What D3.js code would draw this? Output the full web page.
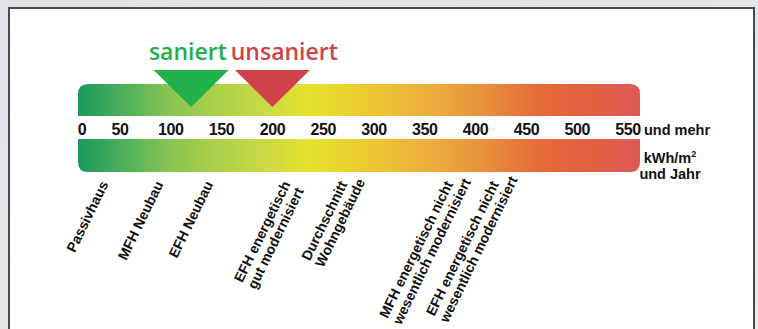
<!DOCTYPE html>
<html>
<head>
<meta charset="utf-8">
<script src="https://cdn.jsdelivr.net/npm/d3@7"></script>
<style>
  html, body { margin: 0; padding: 0; background: #e3e6e9; }
  svg { display: block; }
</style>
</head>
<body>
<div id="chart"></div>
<script>
// tick values on the scale (kWh/m² and year)
var tickValues = [0, 50, 100, 150, 200, 250, 300, 350, 400, 450, 500, 550];

// the two markers above the bar
var markerNames = ["saniert", "unsaniert"];
var markerValues = [120, 200];
var markerColors = ["#22b04b", "#cf4249"];

// building types below the bar (value = where the label ends)
var buildingNames = [
    ["Passivhaus"],
    ["MFH Neubau"],
    ["EFH Neubau"],
    ["EFH energetisch", "gut modernisiert"],
    ["Durchschnitt", "Wohngebäude"],
    ["MFH energetisch nicht", "wesentlich modernisiert"],
    ["EFH energetisch nicht", "wesentlich modernisiert"]
];
var buildingValues = [35, 93, 142, 218, 274, 378, 423];

var width = 758,
    height = 329;

var svg = d3.select("#chart")
    .append("svg")
    .attr("width", width)
    .attr("height", height);

// background frame
var bg = svg.append("defs").append("linearGradient")
    .attr("id", "bgGrad")
    .attr("x1", "0").attr("y1", "0").attr("x2", "1").attr("y2", "1");
bg.append("stop").attr("offset", "0%").attr("stop-color", "#dfe3e7");
bg.append("stop").attr("offset", "100%").attr("stop-color", "#e8eaec");
svg.append("rect")
    .attr("width", width).attr("height", height)
    .attr("fill", "url(#bgGrad)");

svg.append("rect")
    .attr("x", 9).attr("y", 8)
    .attr("width", 745).attr("height", height + 20)
    .attr("fill", "#ffffff")
    .attr("stroke", "#4a4a4a")
    .attr("stroke-width", 2);

// scale: "0" sits at the very start of the bar, the rest is evenly spaced
var x = d3.scaleLinear()
    .domain([0, 50, 550])
    .range([82, 120, 628]);

var barLeft = x(0) - 4,
    barRight = x(550) + 12,
    r = 10;

// colour gradient of the bar
var grad = svg.select("defs").append("linearGradient")
    .attr("id", "barGrad")
    .attr("gradientUnits", "userSpaceOnUse")
    .attr("x1", barLeft).attr("x2", barRight)
    .attr("y1", 0).attr("y2", 0);
var stops = [
    [0, "#1c995c"], [0.08, "#4caf5a"], [0.16, "#86c452"], [0.24, "#a9cf4b"],
    [0.33, "#c9d944"], [0.41, "#e6e230"], [0.48, "#e9d12f"], [0.55, "#ecc036"],
    [0.63, "#ecac3d"], [0.72, "#e8923e"], [0.82, "#e56b38"], [0.9, "#e3603f"],
    [1, "#dc5a57"]
];
stops.forEach(function(s) {
    grad.append("stop").attr("offset", s[0]).attr("stop-color", s[1]);
});

// top bar: rounded top corners
function topBar(x0, x1, y0, y1) {
    return "M" + x0 + "," + y1 +
        "V" + (y0 + r) + "Q" + x0 + "," + y0 + " " + (x0 + r) + "," + y0 +
        "H" + (x1 - r) + "Q" + x1 + "," + y0 + " " + x1 + "," + (y0 + r) +
        "V" + y1 + "Z";
}
// bottom bar: rounded bottom corners
function bottomBar(x0, x1, y0, y1) {
    return "M" + x0 + "," + y0 +
        "H" + x1 + "V" + (y1 - r) + "Q" + x1 + "," + y1 + " " + (x1 - r) + "," + y1 +
        "H" + (x0 + r) + "Q" + x0 + "," + y1 + " " + x0 + "," + (y1 - r) + "Z";
}

svg.append("path")
    .attr("d", topBar(barLeft, barRight, 84, 116))
    .attr("fill", "url(#barGrad)");
svg.append("path")
    .attr("d", bottomBar(barLeft, barRight, 139, 172))
    .attr("fill", "url(#barGrad)");

// tick labels
svg.selectAll(".tick")
    .data(tickValues)
    .enter()
    .append("text")
    .attr("class", "tick")
    .attr("x", d => x(d))
    .attr("y", 135)
    .attr("text-anchor", "middle")
    .style("font-family", "'Liberation Sans', Arial, sans-serif")
    .style("font-weight", "bold")
    .style("font-size", "16px")
    .style("letter-spacing", "-0.4px")
    .attr("fill", "#111")
    .text(d => d);

var unitStyle = function(sel) {
    sel.style("font-family", "'Liberation Sans', Arial, sans-serif")
        .style("font-weight", "bold")
        .style("font-size", "14.5px")
        .attr("fill", "#111");
};
svg.append("text")
    .attr("x", x(550) + 16).attr("y", 135)
    .call(unitStyle)
    .text("und mehr");

var unit = svg.append("text")
    .attr("x", 670).attr("y", 163)
    .attr("text-anchor", "middle")
    .call(unitStyle);
unit.append("tspan").text("kWh/m");
unit.append("tspan").attr("dy", -6).style("font-size", "9px").text("2");
svg.append("text")
    .attr("x", 670).attr("y", 179)
    .attr("text-anchor", "middle")
    .call(unitStyle)
    .text("und Jahr");

// markers
var triW = 75,
    triTop = 70,
    triTip = 107;
svg.selectAll(".marker")
    .data(markerValues)
    .enter()
    .append("path")
    .attr("class", "marker")
    .attr("d", function(d) {
        var cx = x(d);
        return "M" + (cx - triW / 2) + "," + triTop + "L" + (cx + triW / 2) + "," + triTop +
            "L" + cx + "," + triTip + "Z";
    })
    .attr("fill", (d, i) => markerColors[i]);

var mid = (x(markerValues[0]) + x(markerValues[1])) / 2;
svg.selectAll(".markerLabel")
    .data(markerNames)
    .enter()
    .append("text")
    .attr("class", "markerLabel")
    .attr("x", (d, i) => i == 0 ? mid - 5 : mid - 1)
    .attr("y", 60)
    .attr("text-anchor", (d, i) => i == 0 ? "end" : "start")
    .style("font-family", "'Open Sans', sans-serif")
    .style("font-weight", 600)
    .style("font-size", "23px")
    .attr("fill", (d, i) => markerColors[i])
    .text(d => d);

// rotated building labels, first line ends at the value position
var angle = -64,
    lineH = 15;
buildingNames.forEach(function(lines, i) {
    var g = svg.append("g")
        .attr("transform", "translate(" + x(buildingValues[i]) + ",184) rotate(" + angle + ")");
    var t = g.append("text")
        .style("font-family", "'Liberation Sans', Arial, sans-serif")
        .style("font-weight", "bold")
        .style("font-size", "14px")
        .attr("fill", "#111");
    var spans = t.selectAll("tspan")
        .data(lines)
        .enter()
        .append("tspan")
        .attr("x", 0)
        .attr("y", (d, j) => j * lineH)
        .text(d => d);
    var len = spans.node().getComputedTextLength();
    spans.attr("x", -len);
});
</script>
</body>
</html>
